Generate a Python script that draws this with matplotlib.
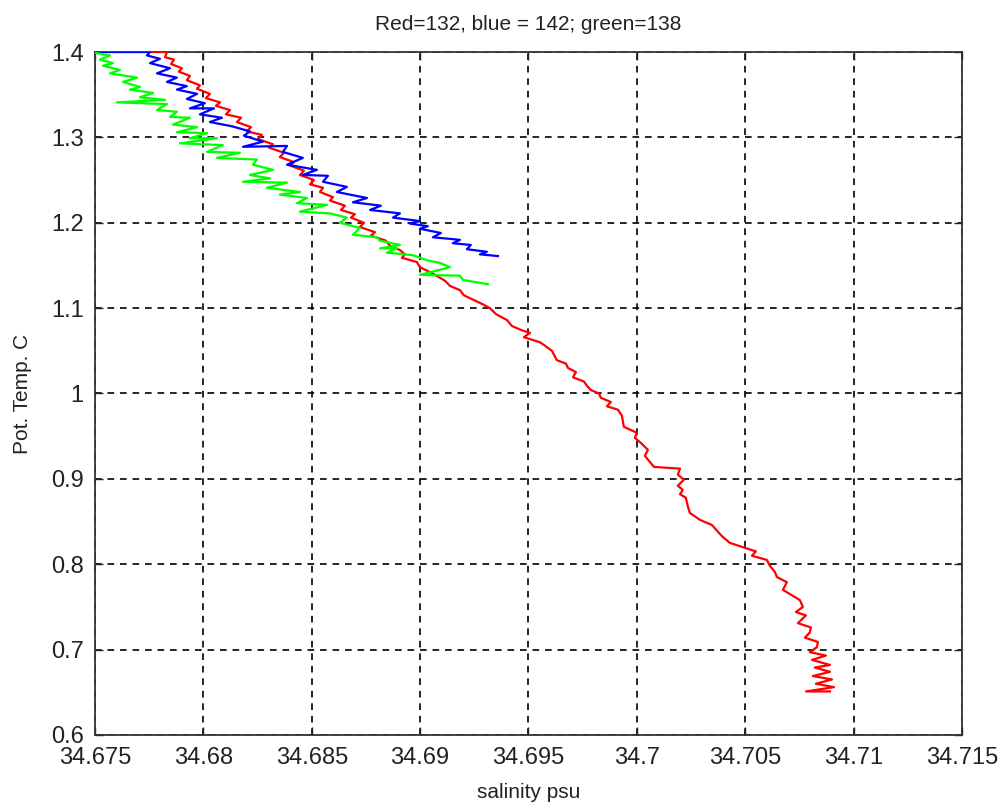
import matplotlib
matplotlib.use('Agg')
import matplotlib.pyplot as plt

# salinity (psu) / potential temperature (C)
red_sal = [34.67768, 34.67832, 34.67823, 34.67864, 34.67851, 34.67901, 34.67887, 34.67938, 34.67924, 34.67984,
           34.67971, 34.68030, 34.68012, 34.68077, 34.68058, 34.68123, 34.68104, 34.68174, 34.68155, 34.68220,
           34.68201, 34.68270, 34.68252, 34.68321, 34.68303, 34.68372, 34.68353, 34.68418, 34.68400, 34.68464,
           34.68446, 34.68510, 34.68492, 34.68552, 34.68538, 34.68598, 34.68584, 34.68653, 34.68635, 34.68699,
           34.68681, 34.68741, 34.68722, 34.68792, 34.68773, 34.68842, 34.68861, 34.68907, 34.68930, 34.68916,
           34.68985, 34.68999, 34.69055, 34.69115, 34.69138, 34.69184, 34.69202, 34.69244, 34.69285, 34.69322,
           34.69350, 34.69401, 34.69424, 34.69470, 34.69507, 34.69479, 34.69553, 34.69576, 34.69608, 34.69631,
           34.69673, 34.69682, 34.69719, 34.69705, 34.69756, 34.69770, 34.69788, 34.69825, 34.69834, 34.69880,
           34.69862, 34.69913, 34.69931, 34.69940, 34.70000, 34.69991, 34.70019, 34.70051, 34.70037, 34.70079,
           34.70199, 34.70189, 34.70217, 34.70189, 34.70212, 34.70199, 34.70226, 34.70236, 34.70245, 34.70291,
           34.70346, 34.70392, 34.70429, 34.70489, 34.70549, 34.70531, 34.70600, 34.70614, 34.70637, 34.70646,
           34.70692, 34.70674, 34.70752, 34.70766, 34.70734, 34.70780, 34.70743, 34.70803, 34.70798, 34.70775,
           34.70835, 34.70831, 34.70798, 34.70872, 34.70808, 34.70891, 34.70821, 34.70891, 34.70812, 34.70900,
           34.70826, 34.70909, 34.70780, 34.70891]
red_temp = [1.400, 1.400, 1.394, 1.391, 1.386, 1.381, 1.377, 1.372, 1.367, 1.361,
            1.357, 1.351, 1.346, 1.341, 1.337, 1.332, 1.327, 1.323, 1.318, 1.312,
            1.307, 1.303, 1.298, 1.292, 1.288, 1.282, 1.277, 1.271, 1.267, 1.261,
            1.256, 1.250, 1.245, 1.241, 1.236, 1.230, 1.226, 1.220, 1.215, 1.210,
            1.206, 1.200, 1.195, 1.189, 1.185, 1.179, 1.173, 1.168, 1.163, 1.159,
            1.154, 1.148, 1.141, 1.132, 1.126, 1.121, 1.115, 1.110, 1.105, 1.100,
            1.093, 1.086, 1.079, 1.074, 1.071, 1.066, 1.060, 1.056, 1.050, 1.039,
            1.035, 1.030, 1.025, 1.019, 1.014, 1.009, 1.004, 1.000, 0.995, 0.990,
            0.985, 0.981, 0.974, 0.961, 0.954, 0.948, 0.942, 0.934, 0.927, 0.914,
            0.912, 0.905, 0.899, 0.892, 0.887, 0.882, 0.878, 0.867, 0.860, 0.852,
            0.846, 0.833, 0.825, 0.820, 0.815, 0.810, 0.805, 0.798, 0.791, 0.785,
            0.779, 0.770, 0.758, 0.750, 0.744, 0.740, 0.731, 0.726, 0.720, 0.714,
            0.709, 0.703, 0.697, 0.693, 0.688, 0.682, 0.679, 0.674, 0.669, 0.665,
            0.660, 0.656, 0.651, 0.651]

blue_sal = [34.67505, 34.67754, 34.67740, 34.67800, 34.67754, 34.67846, 34.67786, 34.67878, 34.67832, 34.67924,
            34.67878, 34.67971, 34.67924, 34.68007, 34.67938, 34.68049, 34.67984, 34.68086, 34.68030, 34.68132,
            34.68215, 34.68187, 34.68275, 34.68183, 34.68386, 34.68367, 34.68459, 34.68386, 34.68524, 34.68459,
            34.68575, 34.68552, 34.68662, 34.68616, 34.68755, 34.68690, 34.68819, 34.68769, 34.68907, 34.68875,
            34.68999, 34.68953, 34.69036, 34.68999, 34.69096, 34.69059, 34.69184, 34.69151, 34.69234, 34.69216,
            34.69308, 34.69276, 34.69359]
blue_temp = [1.400, 1.400, 1.396, 1.392, 1.387, 1.381, 1.375, 1.370, 1.365, 1.360,
             1.356, 1.351, 1.345, 1.340, 1.334, 1.334, 1.327, 1.323, 1.318, 1.313,
             1.307, 1.302, 1.295, 1.289, 1.290, 1.283, 1.276, 1.268, 1.262, 1.256,
             1.255, 1.248, 1.242, 1.236, 1.229, 1.224, 1.220, 1.215, 1.211, 1.206,
             1.202, 1.199, 1.196, 1.193, 1.188, 1.183, 1.180, 1.176, 1.174, 1.169,
             1.166, 1.163, 1.161]

green_sal = [34.67500, 34.67569, 34.67523, 34.67583, 34.67537, 34.67615, 34.67569, 34.67694, 34.67629, 34.67708,
             34.67661, 34.67768, 34.67708, 34.67823, 34.67601, 34.67832, 34.67786, 34.67878, 34.67846, 34.67938,
             34.67860, 34.67971, 34.67878, 34.68017, 34.67938, 34.68063, 34.67892, 34.68090, 34.68017, 34.68169,
             34.68063, 34.68247, 34.68229, 34.68321, 34.68215, 34.68307, 34.68183, 34.68386, 34.68293, 34.68446,
             34.68353, 34.68478, 34.68432, 34.68570, 34.68446, 34.68584, 34.68662, 34.68630, 34.68722, 34.68690,
             34.68801, 34.68815, 34.68907, 34.68815, 34.68893, 34.68847, 34.68967, 34.69032, 34.69091, 34.69138,
             34.68999, 34.69184, 34.69198, 34.69313]
green_temp = [1.399, 1.396, 1.391, 1.387, 1.384, 1.379, 1.375, 1.370, 1.365, 1.359,
              1.356, 1.352, 1.347, 1.344, 1.341, 1.339, 1.332, 1.330, 1.324, 1.323,
              1.315, 1.312, 1.306, 1.305, 1.299, 1.299, 1.293, 1.291, 1.283, 1.282,
              1.276, 1.274, 1.268, 1.262, 1.256, 1.252, 1.248, 1.247, 1.241, 1.236,
              1.233, 1.229, 1.223, 1.221, 1.213, 1.211, 1.206, 1.200, 1.194, 1.186,
              1.183, 1.179, 1.174, 1.170, 1.170, 1.165, 1.162, 1.156, 1.153, 1.148,
              1.139, 1.138, 1.133, 1.128]

xticks = [34.675, 34.68, 34.685, 34.69, 34.695, 34.7, 34.705, 34.71, 34.715]
xticklabels = ['34.675', '34.68', '34.685', '34.69', '34.695', '34.7', '34.705', '34.71', '34.715']
yticks = [0.6, 0.7, 0.8, 0.9, 1.0, 1.1, 1.2, 1.3, 1.4]
yticklabels = ['0.6', '0.7', '0.8', '0.9', '1', '1.1', '1.2', '1.3', '1.4']

plt.rcParams['font.family'] = ['Liberation Sans', 'DejaVu Sans']

fig = plt.figure(figsize=(10.05, 8.09), dpi=100)
ax = fig.add_axes([0.0945, 0.0915, 0.8627, 0.8442])

ax.plot(red_sal, red_temp, color='#ff0000', lw=1.6, zorder=3)
ax.plot(blue_sal, blue_temp, color='#0000ff', lw=1.6, zorder=3)
ax.plot(green_sal, green_temp, color='#00ff00', lw=1.6, zorder=3)

ax.set_xlim(34.675, 34.715)
ax.set_ylim(0.6, 1.4)
ax.set_xticks(xticks)
ax.set_xticklabels(xticklabels)
ax.set_yticks(yticks)
ax.set_yticklabels(yticklabels)

ax.grid(True, color='black', linestyle=(0, (4, 3.5)), linewidth=1.2)
ax.tick_params(direction='in', length=6, width=1, top=True, right=True,
               labelsize=17, colors='#222222')
ax.tick_params(axis='x', pad=9)
ax.tick_params(axis='y', pad=8)
for sp in ax.spines.values():
    sp.set_linewidth(1.3)
    sp.set_color('#333333')

ax.set_xlabel('salinity psu', fontsize=15, color='#222222', labelpad=10)
ax.set_ylabel('Pot. Temp. C', fontsize=15, color='#222222', labelpad=14)
ax.set_title('Red=132, blue = 142; green=138', fontsize=15, color='#222222', pad=16)

fig.savefig('out.png', dpi=100)
